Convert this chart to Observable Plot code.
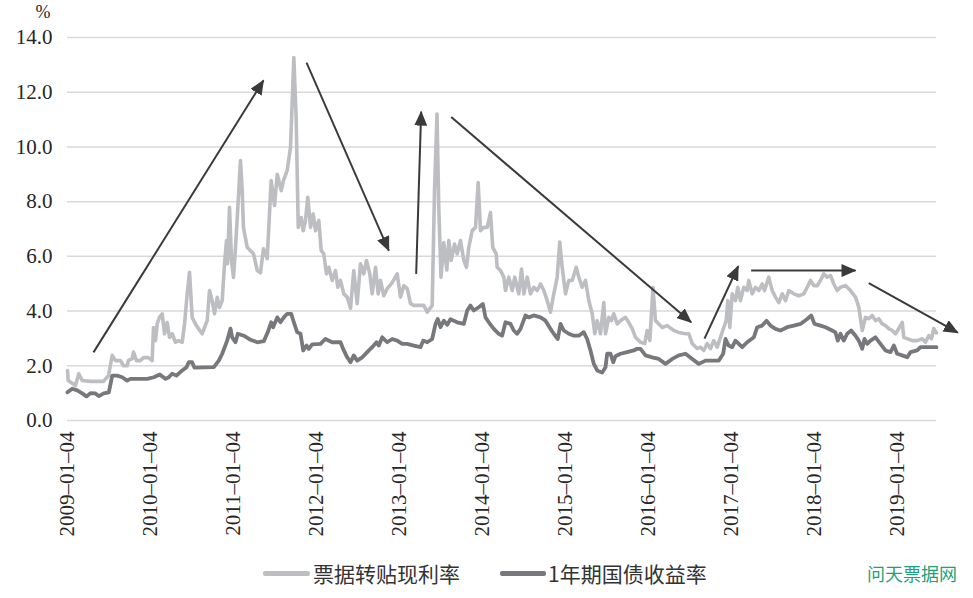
<!DOCTYPE html>
<html>
<head>
<meta charset="utf-8">
<script src="https://cdn.jsdelivr.net/npm/d3@7"></script>
<script src="https://cdn.jsdelivr.net/npm/@observablehq/plot@0.6"></script>
<style>
  html, body { margin: 0; padding: 0; background: #fff; }
  body { width: 973px; height: 598px; position: relative; overflow: hidden; }
  #chart { position: absolute; left: 0; top: 0; }
  .leg { position: absolute; top: 559px; height: 28px; line-height: 28px; font-family: "Noto Sans CJK SC", sans-serif; font-size: 21px; color: #333; white-space: nowrap; }
  .sw { position: absolute; height: 5px; top: 571px; border-radius: 2px; }
  #mark { position: absolute; left: 867px; top: 561px; line-height: 24px; font-family: "Noto Sans CJK SC", sans-serif; font-size: 18px; color: #1ba37a; white-space: nowrap; }
</style>
</head>
<body>
<div id="chart"></div>
<div class="sw" style="left:263px;width:47px;background:#bdbec1"></div>
<div class="leg" id="leg0" style="left:313px"></div>
<div class="sw" style="left:500px;width:46px;background:#77787b"></div>
<div class="leg" id="leg1" style="left:548px"></div>
<div id="mark">问天票据网</div>
<script>
// ---- data (x: years elapsed since 2009-01-04; y: rate in %) ----
const seriesNames = ["票据转贴现利率", "1年期国债收益率"];
const seriesColors = ["#bdbec1", "#77787b"];

const billYears = [0,0.008,0.096,0.136,0.177,0.277,0.434,0.494,0.539,0.578,
0.639,0.675,0.719,0.735,0.780,0.795,0.831,0.880,0.916,0.976,
1.020,1.036,1.060,1.081,1.108,1.141,1.169,1.201,1.229,1.261,
1.301,1.337,1.382,1.410,1.442,1.470,1.502,1.542,1.578,1.623,
1.651,1.683,1.711,1.743,1.771,1.804,1.831,1.864,1.892,1.916,
1.928,1.952,1.976,2.000,2.024,2.048,2.084,2.105,2.120,2.165,
2.205,2.241,2.286,2.325,2.361,2.406,2.454,2.494,2.527,2.575,
2.602,2.647,2.687,2.727,2.755,2.780,2.816,2.840,2.867,2.895,
2.928,2.960,2.988,3.028,3.057,3.088,3.120,3.148,3.189,3.229,
3.257,3.289,3.329,3.370,3.410,3.449,3.490,3.530,3.570,3.602,
3.642,3.671,3.711,3.743,3.771,3.811,3.852,3.912,3.972,4.012,
4.052,4.093,4.133,4.172,4.293,4.334,4.394,4.422,4.452,4.473,
4.500,4.534,4.570,4.594,4.623,4.663,4.695,4.735,4.775,4.807,
4.835,4.876,4.916,4.948,4.976,5.016,5.057,5.096,5.124,5.165,
5.177,5.217,5.257,5.277,5.317,5.358,5.389,5.437,5.470,5.498,
5.539,5.578,5.618,5.659,5.699,5.739,5.780,5.819,5.859,5.900,
5.931,5.960,6.000,6.040,6.081,6.129,6.160,6.201,6.241,6.281,
6.322,6.353,6.382,6.422,6.461,6.482,6.522,6.554,6.582,6.623,
6.663,6.723,6.763,6.804,6.843,6.904,6.955,6.984,7.016,7.054,
7.084,7.124,7.165,7.225,7.305,7.365,7.446,7.486,7.527,7.587,
7.627,7.666,7.707,7.747,7.787,7.828,7.867,7.907,7.936,7.955,
7.980,8.008,8.048,8.076,8.108,8.148,8.189,8.208,8.249,8.289,
8.329,8.370,8.398,8.449,8.490,8.530,8.570,8.611,8.651,8.690,
8.751,8.811,8.871,8.912,8.952,8.992,9.033,9.072,9.112,9.153,
9.193,9.233,9.273,9.313,9.373,9.434,9.494,9.534,9.575,9.614,
9.654,9.695,9.735,9.775,9.816,9.855,9.895,9.936,9.976,10.016,
10.057,10.076,10.117,10.177,10.237,10.298,10.337,10.377,10.410,10.437,
10.470];
const billRates = [1.83,1.46,1.28,1.71,1.46,1.43,1.43,1.64,2.38,2.19,
2.19,2.0,2.0,2.2,2.26,2.5,2.19,2.19,2.3,2.3,
2.19,3.4,2.92,3.53,3.77,3.9,3.17,3.58,3.04,3.17,
2.86,2.92,2.86,3.53,4.63,5.42,3.77,3.53,3.36,3.17,
3.4,3.65,4.75,4.38,3.9,4.5,4.13,4.38,5.73,6.58,
5.73,7.79,5.85,5.23,6.33,7.55,9.5,8.4,7.06,6.33,
6.2,6.1,5.48,5.4,6.28,5.92,8.77,7.86,9.0,8.4,
8.77,9.14,9.99,13.27,11.07,7.06,7.42,6.94,7.31,8.16,
7.06,7.55,6.94,7.31,6.21,6.09,5.36,5.6,5.12,5.48,
4.87,5.12,4.63,4.51,4.1,5.48,4.27,5.73,5.36,5.85,
5.36,4.63,5.6,4.63,5.12,4.56,4.82,5.04,5.36,4.51,
4.93,4.82,4.27,4.21,4.21,3.96,4.21,8.4,11.2,7.79,
5.24,6.5,5.5,6.58,5.85,6.45,6.09,6.58,5.85,5.6,
6.33,6.94,7.06,8.7,6.94,7.06,7.06,7.6,6.33,6.09,
5.6,5.48,5.24,4.75,5.24,4.75,5.24,4.63,5.54,4.63,
5.24,4.63,4.87,4.75,4.99,4.75,4.38,3.96,4.63,5.24,
6.52,5.6,4.63,5.12,5.12,5.6,5.24,4.87,5.12,4.38,
3.9,3.17,3.65,3.17,4.31,3.17,3.77,3.65,3.9,3.53,
3.65,3.77,3.58,3.36,3.04,2.86,2.81,3.29,2.92,4.87,
3.65,3.53,3.4,3.47,3.29,3.22,3.17,3.17,2.81,2.63,
2.68,2.56,2.81,2.63,2.92,2.68,3.04,3.4,3.65,4.38,
3.4,4.63,4.38,4.87,4.38,4.87,4.75,5.12,4.63,4.87,
4.75,4.99,4.75,5.24,4.75,4.51,4.31,4.63,4.38,4.75,
4.63,4.56,4.63,4.87,5.12,4.93,4.93,5.12,5.36,5.24,
5.3,4.99,4.75,4.87,4.93,4.75,4.51,4.14,3.29,3.77,
3.72,3.84,3.65,3.72,3.53,3.47,3.36,3.29,3.17,3.36,
3.59,3.04,2.99,2.92,2.92,2.99,2.86,3.1,2.99,3.36,
3.2];

const bondYears = [0,0.057,0.117,0.177,0.229,0.277,0.337,0.377,0.437,0.498,
0.539,0.599,0.659,0.719,0.759,0.960,1.040,1.112,1.181,1.220,
1.261,1.313,1.382,1.434,1.461,1.502,1.530,1.763,1.823,1.864,
1.924,1.964,1.984,2.024,2.052,2.124,2.205,2.286,2.365,2.413,
2.454,2.478,2.527,2.566,2.606,2.647,2.695,2.727,2.767,2.807,
2.840,2.880,2.907,2.948,3.048,3.108,3.189,3.289,3.329,3.370,
3.410,3.449,3.490,3.551,3.611,3.671,3.723,3.751,3.792,3.852,
3.912,3.972,4.033,4.093,4.172,4.253,4.286,4.334,4.394,4.434,
4.461,4.494,4.534,4.575,4.614,4.695,4.775,4.816,4.855,4.895,
4.955,5.004,5.036,5.076,5.136,5.196,5.237,5.277,5.337,5.377,
5.418,5.458,5.518,5.558,5.618,5.699,5.759,5.819,5.859,5.907,
5.940,5.980,6.040,6.100,6.160,6.220,6.261,6.301,6.341,6.382,
6.442,6.482,6.502,6.542,6.575,6.602,6.663,6.743,6.823,6.863,
6.904,6.964,7.045,7.124,7.205,7.286,7.365,7.446,7.527,7.606,
7.687,7.847,7.900,7.928,7.967,8.008,8.048,8.088,8.129,8.189,
8.269,8.310,8.370,8.422,8.470,8.530,8.590,8.671,8.751,8.831,
8.912,8.960,9.000,9.072,9.133,9.213,9.253,9.281,9.313,9.353,
9.394,9.442,9.494,9.534,9.575,9.602,9.635,9.675,9.735,9.795,
9.855,9.916,9.956,9.996,10.057,10.117,10.157,10.237,10.277,10.470];
const bondRates = [1.03,1.16,1.1,0.99,0.88,1.0,0.99,0.89,0.99,1.03,
1.64,1.64,1.58,1.46,1.52,1.52,1.58,1.68,1.52,1.58,
1.71,1.64,1.83,1.95,2.13,2.13,1.93,1.95,2.19,2.44,
2.92,3.36,3.04,2.86,3.17,3.1,2.95,2.86,2.9,3.23,
3.59,3.41,3.77,3.59,3.77,3.9,3.9,3.59,3.23,3.17,
2.56,2.74,2.62,2.78,2.8,2.98,2.86,2.86,2.56,2.31,
2.13,2.38,2.19,2.31,2.5,2.68,2.86,2.74,3.04,2.86,
2.98,2.92,2.8,2.8,2.74,2.68,2.92,2.86,2.98,3.53,
3.71,3.41,3.65,3.5,3.7,3.59,3.53,4.02,4.2,4.02,
4.14,4.26,3.77,3.59,3.35,3.17,3.1,3.59,3.53,3.29,
3.17,3.35,3.84,3.77,3.84,3.77,3.65,3.35,3.17,2.98,
3.53,3.29,3.17,3.1,3.1,3.23,2.98,2.56,2.07,1.83,
1.75,1.95,2.44,2.44,2.13,2.35,2.44,2.5,2.56,2.62,
2.62,2.38,2.31,2.25,2.07,2.25,2.38,2.44,2.25,2.07,
2.19,2.19,2.44,2.98,2.74,2.68,2.92,2.8,2.68,2.86,
3.04,3.41,3.47,3.65,3.47,3.35,3.29,3.41,3.47,3.53,
3.71,3.84,3.53,3.47,3.41,3.29,3.22,2.92,3.17,2.92,
3.17,3.29,3.1,2.92,2.62,2.98,2.8,2.92,3.04,2.8,
2.56,2.5,2.74,2.44,2.38,2.31,2.5,2.56,2.68,2.68];

const tickLabels = ["2009-01-04","2010-01-04","2011-01-04","2012-01-04","2013-01-04","2014-01-04",
  "2015-01-04","2016-01-04","2017-01-04","2018-01-04","2019-01-04"];
const yTicks = [0, 2, 4, 6, 8, 10, 12, 14];
const yUnit = "%";
const xEnd = 10.47; // last observation, years after 2009-01-04

// trend arrows (start year, start %, end year, end %)
const arrowX1 = [0.313, 2.880, 4.201, 4.623, 7.675, 8.237, 9.654];
const arrowY1 = [2.49, 13.08, 5.36, 11.09, 2.99, 5.48, 5.02];
const arrowX2 = [2.361, 3.871, 4.261, 7.514, 8.081, 9.494, 10.727];
const arrowY2 = [12.43, 6.21, 11.29, 3.59, 5.64, 5.48, 3.21];

// ---- build ----
const origin = Date.UTC(2009, 0, 4);
const toDate = t => new Date(origin + t * 365.25 * 864e5);
const bill = billYears.map((t, i) => ({date: toDate(t), rate: billRates[i]}));
const bond = bondYears.map((t, i) => ({date: toDate(t), rate: bondRates[i]}));
const arrows = arrowX1.map((x, i) => ({x1: toDate(x), y1: arrowY1[i], x2: toDate(arrowX2[i]), y2: arrowY2[i]}));
const tickDates = tickLabels.map(s => new Date(s + "T00:00:00Z"));
const labelFor = d => { const k = tickDates.findIndex(t => +t === +d); return k >= 0 ? tickLabels[k].replace(/-/g, "\u2013") : ""; };

const plot = Plot.plot({
  width: 973,
  height: 550,
  marginLeft: 67,
  marginRight: 37,
  marginTop: 37,
  marginBottom: 130,
  style: {fontFamily: "'Liberation Serif', serif", fontSize: "21px", color: "#262626", background: "#fff", overflow: "visible"},
  x: {type: "utc", domain: [toDate(0), toDate(xEnd)], ticks: tickDates, tickFormat: labelFor,
      tickRotate: -90, tickSize: 0, tickPadding: 11, label: null},
  y: {domain: [0, 14], ticks: yTicks, tickFormat: d => d.toFixed(1), tickSize: 0, tickPadding: 15, label: null},
  marks: [
    Plot.gridY(yTicks, {stroke: "#d9d9d9", strokeOpacity: 1, strokeWidth: 1.5}),
    Plot.line(bill, {x: "date", y: "rate", stroke: seriesColors[0], strokeWidth: 3.6, strokeLinejoin: "round"}),
    Plot.line(bond, {x: "date", y: "rate", stroke: seriesColors[1], strokeWidth: 3.8, strokeLinejoin: "round"}),
    Plot.link(arrows, {x1: "x1", y1: "y1", x2: "x2", y2: "y2", stroke: "#3a3a3a", strokeWidth: 2, strokeLinecap: "butt"}),
    Plot.text([yUnit], {frameAnchor: "top-left", dx: -32, dy: -25, fontSize: 18, fill: "#262626", lineAnchor: "middle"})
  ]
});

// filled triangular arrowheads on the trend arrows
const svg = d3.select(plot);
const defs = svg.insert("defs", ":first-child");
defs.append("marker")
  .attr("id", "tri")
  .attr("viewBox", "0 0 15 13")
  .attr("markerWidth", 15).attr("markerHeight", 13)
  .attr("markerUnits", "userSpaceOnUse")
  .attr("refX", 14).attr("refY", 6.5)
  .attr("orient", "auto")
  .append("path").attr("d", "M0,0L15,6.5L0,13Z").attr("fill", "#3a3a3a");
svg.selectAll('g[aria-label="link"] path').attr("marker-end", "url(#tri)");

document.getElementById("chart").appendChild(plot);
document.getElementById("leg0").textContent = seriesNames[0];
document.getElementById("leg1").textContent = seriesNames[1];
</script>
</body>
</html>
